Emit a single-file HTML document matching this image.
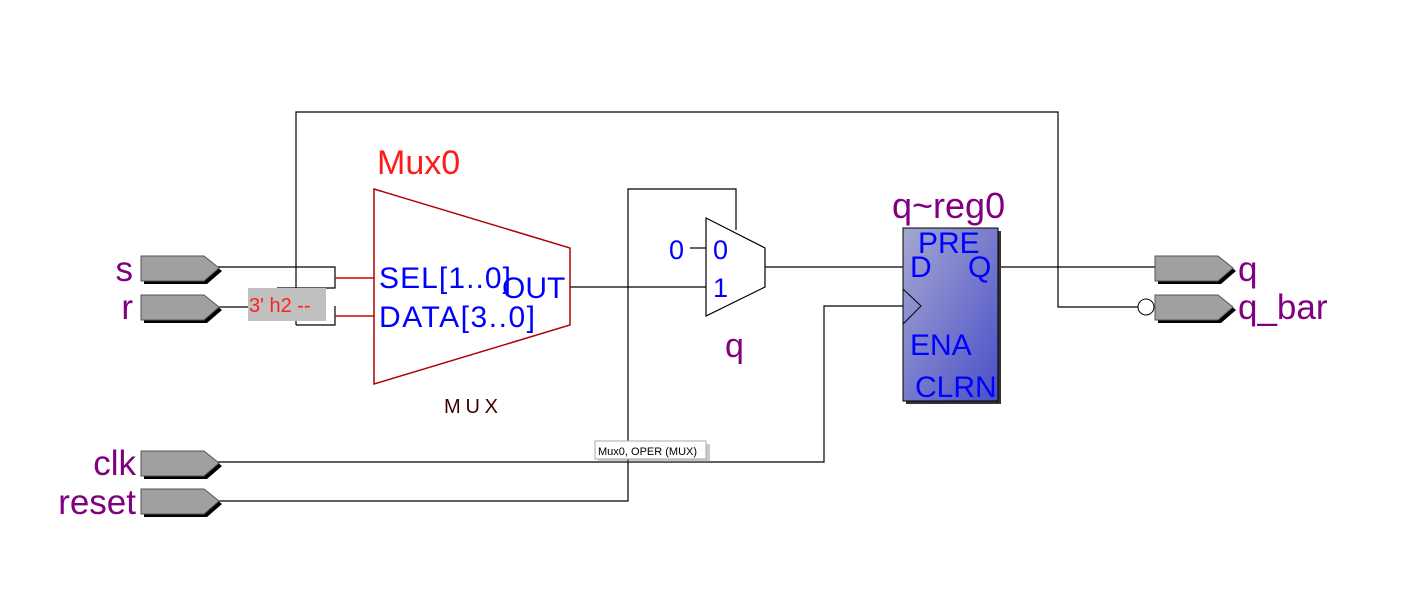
<!DOCTYPE html>
<html><head><style>body{margin:0;background:#fff}svg{display:block}</style></head><body>
<svg width="1417" height="601" xmlns="http://www.w3.org/2000/svg" font-family="Liberation Sans, sans-serif">
<defs>
<linearGradient id="g" x1="0" y1="0" x2="1" y2="1"><stop offset="0" stop-color="#a4a8d0"/><stop offset="1" stop-color="#4a4ec8"/></linearGradient>
<clipPath id="c"><rect x="903" y="228" width="95" height="173"/></clipPath>
<g id="pin"><polygon points="3,3 66,3 81,15 66,28 3,28" fill="#000"/><polygon points="0,0 63,0 78,12 63,25 0,25" fill="#a0a0a0" stroke="#555" stroke-width="1"/></g>
</defs>
<g stroke="#000" stroke-width="1.2" fill="none">
<polyline points="296,325 296,112 1058,112 1058,307 1138,307"/>
<polyline points="218,267 335,267 335,288 277,288"/>
<polyline points="218,307 248,307"/>
<polyline points="296,325 335,325 335,306"/>
<polyline points="570,287 706,287"/>
<polyline points="218,501 628,501 628,189 736,189 736,230"/>
<polyline points="218,462 824,462 824,306 903,306"/>
<line x1="690" y1="248" x2="706" y2="248"/>
<line x1="765" y1="267" x2="903" y2="267"/>
<line x1="998" y1="267" x2="1155" y2="267"/>
<polygon points="706,218 765,248 765,287 706,316" fill="#fff"/>
</g>
<g stroke="#d00000" stroke-width="1.5">
<line x1="335" y1="278" x2="374" y2="278"/><line x1="335" y1="316" x2="374" y2="316"/>
</g>
<polygon points="374,189 570,248 570,325 374,384" fill="#fff" stroke="#b00000" stroke-width="1.5"/>
<rect x="248" y="288" width="78" height="33" fill="#c0c0c0"/>
<text x="249" y="312" font-size="20" fill="#ff2020">3' h2 --</text>
<text x="377" y="174" font-size="34" fill="#ff1a1a">Mux0</text>
<text x="379" y="288" font-size="30" fill="#0000ff" textLength="132">SEL[1..0]</text>
<text x="379" y="327" font-size="30" fill="#0000ff" textLength="156">DATA[3..0]</text>
<text x="502" y="298" font-size="30" fill="#0000ff">OUT</text>
<text x="444" y="413" font-size="20" fill="#400000" textLength="54">MUX</text>
<text x="669" y="259" font-size="27" fill="#0000ff">0</text>
<text x="713" y="259" font-size="27" fill="#0000ff">0</text>
<text x="713" y="297" font-size="27" fill="#0000ff">1</text>
<text x="725" y="357" font-size="34" fill="#800080">q</text>
<text x="892" y="218" font-size="36" fill="#800080">q~reg0</text>
<rect x="906" y="231" width="95" height="173" fill="#333"/>
<rect x="903" y="228" width="95" height="173" fill="url(#g)" stroke="#000"/>
<polyline points="903,289 921,306 903,324" fill="none" stroke="#000"/>
<g clip-path="url(#c)" font-size="30" fill="#0000ff">
<text x="918" y="253">PRE</text>
<text x="910" y="277">D</text>
<text x="968" y="277">Q</text>
<text x="910" y="355">ENA</text>
<text x="915" y="397">CLRN</text>
</g>
<circle cx="1146" cy="307" r="8" fill="#fff" stroke="#000"/>
<use href="#pin" x="141" y="256"/><use href="#pin" x="141" y="295"/>
<use href="#pin" x="141" y="451"/><use href="#pin" x="141" y="489"/>
<use href="#pin" x="1155" y="256"/><use href="#pin" x="1155" y="295"/>
<g font-size="35" fill="#800080">
<text x="133" y="281" text-anchor="end">s</text>
<text x="133" y="319" text-anchor="end">r</text>
<text x="136" y="475" text-anchor="end">clk</text>
<text x="136" y="514" text-anchor="end">reset</text>
<text x="1238" y="281">q</text>
<text x="1238" y="319">q_bar</text>
</g>
<rect x="598" y="444" width="112" height="18" fill="#777" opacity="0.4"/>
<rect x="595" y="441" width="111" height="18" fill="#fff" stroke="#aaa"/>
<text x="598" y="455" font-size="11" fill="#000">Mux0, OPER (MUX)</text>
</svg>
</body></html>
